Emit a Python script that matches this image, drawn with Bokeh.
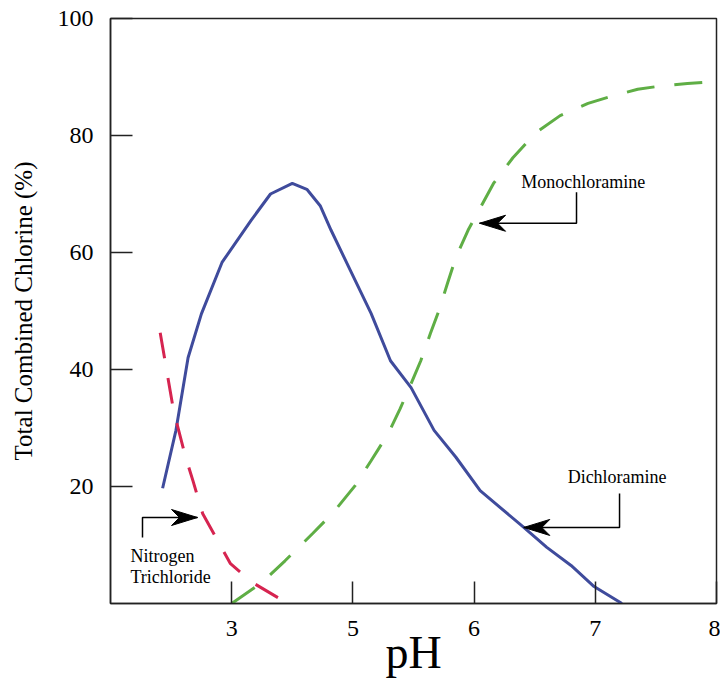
from bokeh.plotting import figure
from bokeh.models import Range1d, FixedTicker
from bokeh.core.properties import value
from bokeh.embed import file_html
from bokeh.resources import INLINE

# ---- data (x in axis-position units; tick labels as printed on the chart) ----
x_tick_pos = [3, 4, 5, 6, 7]
x_tick_labels = ["3", "5", "6", "7", "8"]
y_ticks = [20, 40, 60, 80, 100]

dichloramine_x = [2.43, 2.54, 2.64, 2.75, 2.92, 3.16, 3.32, 3.50, 3.62, 3.73, 3.82, 3.98,
                  4.15, 4.31, 4.48, 4.67, 4.85, 5.05, 5.41, 5.60, 5.80, 5.99, 6.22]
dichloramine_y = [19.7, 29.6, 42.0, 49.5, 58.3, 65.5, 70.0, 71.8, 70.8, 68.0, 63.8, 56.9,
                  49.6, 41.5, 36.9, 29.6, 25.0, 19.3, 13.0, 9.6, 6.5, 2.9, 0.0]

trichloride_x = [2.41, 2.52, 2.62, 2.68, 2.76, 2.99, 3.17, 3.39]
trichloride_y = [46.3, 33.0, 25.0, 21.0, 15.4, 6.8, 3.6, 0.9]

monochloramine_x = [3.00, 3.25, 3.44, 3.67, 3.84, 4.02, 4.15, 4.29, 4.39, 4.48, 4.56, 4.64,
                    4.71, 4.78, 4.85, 4.95, 5.16, 5.32, 5.51, 5.71, 5.94, 6.13, 6.35, 6.55,
                    6.76, 6.97]
monochloramine_y = [0.0, 3.6, 7.3, 12.0, 15.6, 20.2, 24.4, 29.0, 33.3, 37.6, 41.5, 46.2,
                    50.1, 54.7, 59.2, 63.8, 71.8, 76.2, 80.5, 83.4, 85.5, 86.7, 87.9, 88.5,
                    88.9, 89.2]

# annotations: label text, text anchor, elbow start, elbow corner, arrow tip
mono_label = "Monochloramine"
mono_text_xy = (5.90, 72.0)
mono_path_x = [5.845, 5.845, 5.045]
mono_path_y = [70.3, 65.0, 65.0]

di_label = "Dichloramine"
di_text_xy = (6.18, 21.7)
di_path_x = [6.20, 6.20, 5.41]
di_path_y = [18.8, 13.0, 13.0]

tri_labels = ["Nitrogen", "Trichloride"]
tri_text_x = [2.165, 2.165]
tri_text_y = [8.2, 4.6]
tri_path_x = [2.264, 2.264, 2.718]
tri_path_y = [11.3, 14.7, 14.7]

# ---- figure ----
W, H = 720, 690
ML, MR, MT, MB = 110, 4, 18, 87
X0, X1, Y0, Y1 = 2, 7, 0, 100

p = figure(width=W, height=H, x_range=Range1d(X0, X1), y_range=Range1d(Y0, Y1),
           output_backend="svg", toolbar_location=None,
           min_border_left=ML, min_border_right=MR, min_border_top=MT, min_border_bottom=MB)
p.grid.visible = False
p.background_fill_color = "white"
p.border_fill_color = "white"
p.outline_line_color = "#222222"
p.outline_line_width = 1.5

SERIF = "Liberation Serif"

p.xaxis.ticker = FixedTicker(ticks=x_tick_pos)
p.xaxis.major_label_overrides = {t: l for t, l in zip(x_tick_pos, x_tick_labels)}
p.yaxis.ticker = FixedTicker(ticks=y_ticks)
for ax in (p.xaxis[0], p.yaxis[0]):
    ax.major_tick_in = 22
    ax.major_tick_out = 0
    ax.minor_tick_in = 0
    ax.minor_tick_out = 0
    ax.axis_line_width = 1.5
    ax.axis_line_color = "#222222"
    ax.major_tick_line_width = 1.5
    ax.major_tick_line_color = "#222222"
    ax.major_label_text_font = SERIF
    ax.major_label_text_font_size = "24px"
    ax.major_label_text_color = "black"
    ax.axis_label_text_font = SERIF
    ax.axis_label_text_font_style = "normal"
    ax.axis_label_text_color = "black"

p.xaxis.axis_label = "pH"
p.xaxis.axis_label_text_font_size = "46px"
p.xaxis.major_label_standoff = 17
p.xaxis.axis_label_standoff = -12
p.yaxis.axis_label = "Total Combined Chlorine (%)"
p.yaxis.axis_label_text_font_size = "25px"
p.yaxis.major_label_standoff = 17
p.yaxis.axis_label_standoff = 18

# ---- curves ----
p.line(dichloramine_x, dichloramine_y, line_color="#3f4b9c", line_width=3)
p.line(trichloride_x, trichloride_y, line_color="#d62450", line_width=3, line_dash="26 20")
p.line(monochloramine_x, monochloramine_y, line_color="#5fae45", line_width=3, line_dash="28 20")

# ---- annotations ----
frame_w = W - ML - MR
frame_h = H - MT - MB
sx = (X1 - X0) / frame_w   # data per px
sy = (Y1 - Y0) / frame_h

def head(tip_x, tip_y, direction):
    L, N, HW = 26, 18, 8
    d = direction
    xs = [tip_x, tip_x + d * L * sx, tip_x + d * N * sx, tip_x + d * L * sx]
    ys = [tip_y, tip_y + HW * sy, tip_y, tip_y - HW * sy]
    return xs, ys

hx, hy = [], []
for px, py, d in ((mono_path_x, mono_path_y, 1), (di_path_x, di_path_y, 1), (tri_path_x, tri_path_y, -1)):
    p.line(px, py, line_color="black", line_width=1.5)
    a, b = head(px[-1], py[-1], d)
    hx.append(a)
    hy.append(b)
p.patches(hx, hy, fill_color="black", line_color="black", line_width=1)

p.text(x=[mono_text_xy[0], di_text_xy[0]], y=[mono_text_xy[1], di_text_xy[1]],
       text=[mono_label, di_label], text_font=value(SERIF), text_font_size="18px",
       text_align="center", text_baseline="middle", text_color="black")
p.text(x=tri_text_x, y=tri_text_y, text=tri_labels, text_font=value(SERIF),
       text_font_size="18px", text_align="left", text_baseline="middle", text_color="black")

open("out.html", "w").write(file_html(p, INLINE))
